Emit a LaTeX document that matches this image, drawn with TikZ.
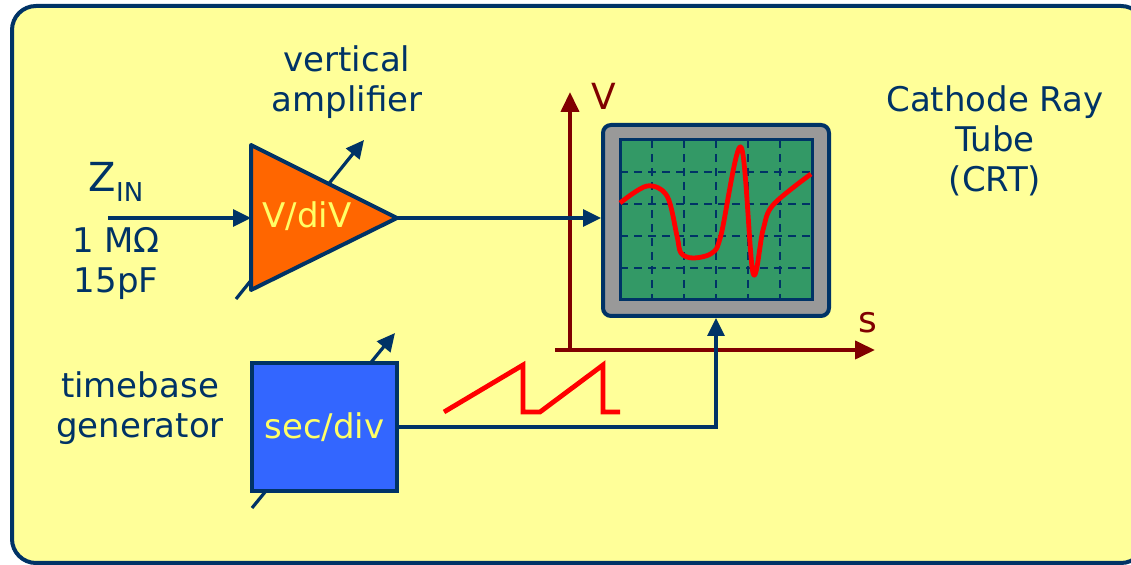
\documentclass[tikz,border=0pt]{standalone}
\usepackage{fontspec}
\setmainfont{DejaVu Sans}
\usepackage{xcolor}
\definecolor{navy}{RGB}{0,51,102}
\definecolor{paper}{RGB}{255,255,153}
\definecolor{amporange}{RGB}{255,102,0}
\definecolor{genblue}{RGB}{51,102,255}
\definecolor{screengreen}{RGB}{51,153,102}
\definecolor{crtgray}{RGB}{153,153,153}
\definecolor{axisred}{RGB}{128,0,0}
\definecolor{labelyellow}{RGB}{255,255,102}
\usetikzlibrary{arrows.meta,positioning,calc}

\tikzset{
  sig/.style={navy, line width=1.6pt, -{Triangle[length=9pt,width=8.5pt]}},
  knob/.style={navy, line width=1.6pt, -{Triangle[length=9pt,width=8.5pt]}},
  axis/.style={axisred, line width=2pt, -{Triangle[length=10pt,width=9pt]}},
  lbl/.style={text=navy, font=\fontsize{17}{20}\selectfont, align=center},
  inlbl/.style={text=labelyellow, font=\fontsize{17}{20}\selectfont},
  trace/.style={red, line width=2.4pt, line join=round},
  grid/.style={navy, line width=1.3pt, dash pattern=on 4pt off 3pt}
}

\begin{document}
\begin{tikzpicture}[x=0.5pt, y=-0.5pt]
  \useasboundingbox (0,0) rectangle (1131,565);

  % Panel
  \draw[navy, fill=paper, line width=2pt, rounded corners=12pt] (12,6) rectangle (1145,563);

  % Vertical amplifier
  \coordinate (ampin) at (251,218);
  \coordinate (amptip) at (397,218);
  \coordinate (ampknoba) at (236,299);
  \coordinate (ampknobb) at (364,140);
  \draw[knob] (ampknoba) -- (ampknobb);
  \draw[navy, fill=amporange, line width=2pt, line join=round] (251,145) -- (amptip) -- (251,290) -- cycle;
  \node[inlbl] (ampname) at (307,216) {V/diV};
  \node[lbl] (amptitle) at (347,82) {vertical\\amplifier};

  % Input
  \coordinate (inpt) at (108,218);
  \draw[sig] (inpt) -- (ampin);
  \node[lbl, font=\fontsize{20}{22}\selectfont] (zin) at (116,182) {Z\raisebox{-0.45ex}{\fontsize{13}{13}\selectfont IN}};
  \node[lbl] (zval) at (116,264) {1 MΩ\\15pF};

  % Screen axes
  \coordinate (vbot) at (570,350);
  \coordinate (vtop) at (570,92);
  \coordinate (sleft) at (555,350);
  \coordinate (sright) at (875,350);
  \draw[axis] (vbot) -- (vtop);
  \draw[axis] (sleft) -- (sright);
  \node[text=axisred, font=\fontsize{18}{20}\selectfont] (vlab) at (604,96) {V};
  \node[text=axisred, font=\fontsize{18}{20}\selectfont] (slab) at (868,323) {s};

  % CRT
  \node[draw=navy, fill=crtgray, line width=2pt, rounded corners=4pt,
        minimum width=113pt, minimum height=95.5pt, inner sep=0pt] (crt) at (716,220.5) {};
  \draw[navy, fill=screengreen, line width=1.5pt] (620,140) rectangle (812,300);
  \foreach \gx in {652,684,716,748,780}
    \draw[grid] (\gx,140) -- (\gx,300);
  \foreach \gy in {172,204,236,268}
    \draw[grid] (620,\gy) -- (812,\gy);
  \draw[trace] plot[smooth, tension=0.55] coordinates {
    (620,203) (647,186) (667,196) (677,236) (681,253) (693,258) (712,253) (721,235)
    (741,147) (753,273) (763,230) (773,205) (811,174)};
  \node[lbl] (crtname) at (995,141) {Cathode Ray\\Tube\\(CRT)};

  \draw[sig] (amptip) -- (amptip -| crt.west);

  % Timebase
  \coordinate (genknoba) at (252,508);
  \coordinate (genknobb) at (395,333);
  \draw[knob] (genknoba) -- (genknobb);
  \node[draw=navy, fill=genblue, line width=2pt, minimum width=72.5pt, minimum height=64pt,
        inner sep=0pt, inlbl] (tbgen) at (324.5,427) {sec/div};
  \node[lbl] (tbtitle) at (140,408) {timebase\\generator};
  \draw[sig] (tbgen.east) -| (crt.south);

  % Sawtooth
  \draw[trace, line join=miter] (444,412) -- (523,365) -- (523,412) -- (540,412)
    -- (603,365) -- (603,412) -- (620,412);
\end{tikzpicture}
\end{document}
